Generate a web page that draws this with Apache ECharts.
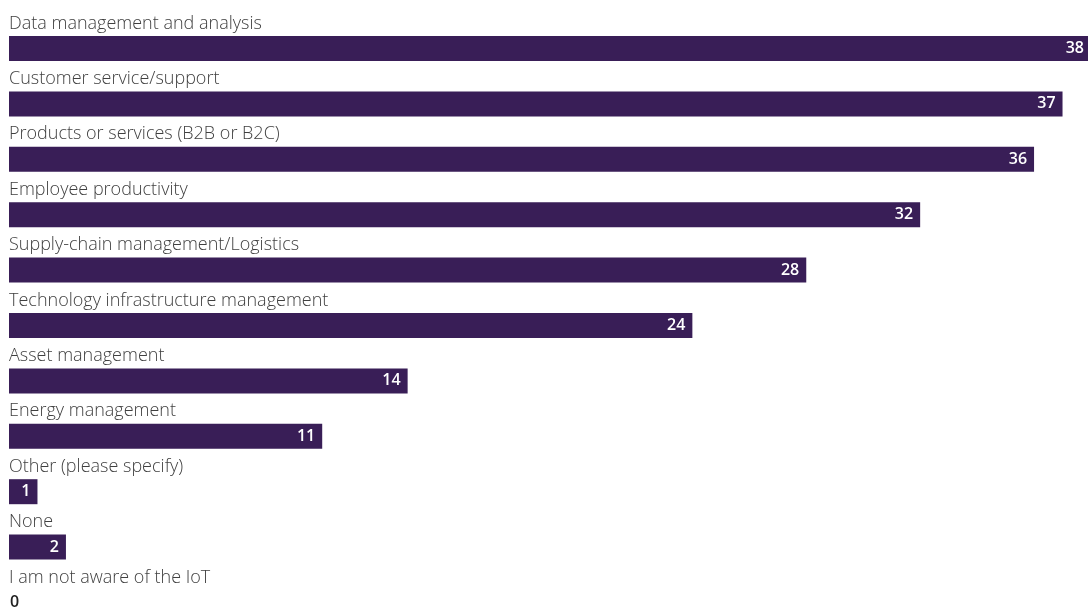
<!DOCTYPE html>
<html>
<head>
<meta charset="utf-8">
<script src="https://cdn.jsdelivr.net/npm/echarts@6/dist/echarts.min.js"></script>
<style>
  html, body { margin: 0; padding: 0; background: #ffffff; }
  #chart { width: 1088px; height: 607px; }
</style>
</head>
<body>
<div id="chart"></div>
<script>
// Survey answers, top to bottom
const categories = [
  'Data management and analysis',
  'Customer service/support',
  'Products or services (B2B or B2C)',
  'Employee productivity',
  'Supply-chain management/Logistics',
  'Technology infrastructure management',
  'Asset management',
  'Energy management',
  'Other (please specify)',
  'None',
  'I am not aware of the IoT'
];
const values = [38, 37, 36, 32, 28, 24, 14, 11, 1, 2, 0];

const barColor = '#391e57';

const seriesData = values.map(v => v === 0
  ? { value: v, label: { position: 'insideLeft', distance: 1, color: '#222222' } }
  : v);

const chart = echarts.init(document.getElementById('chart'));
chart.setOption({
  animation: false,
  grid: { left: 9, top: 20.8, width: 1082, height: 609.4, outerBoundsMode: 'none', containLabel: false },
  xAxis: {
    type: 'value', min: 0, max: 38, show: false
  },
  yAxis: {
    type: 'category',
    data: categories,
    inverse: true,
    axisLine: { show: false },
    axisTick: { show: false },
    splitLine: { show: false },
    axisLabel: {
      inside: true,
      margin: 0,
      verticalAlign: 'bottom',
      padding: [0, 0, 16, 0],
      fontFamily: 'Open Sans',
      fontWeight: 300,
      fontSize: 18,
      color: '#404040'
    }
  },
  series: [{
    type: 'bar',
    data: seriesData,
    barWidth: 25,
    itemStyle: { color: barColor },
    label: {
      show: true,
      position: 'insideRight',
      distance: 7,
      color: '#ffffff',
      fontFamily: 'Open Sans',
      fontWeight: 600,
      fontSize: 16
    }
  }]
});
</script>
</body>
</html>
